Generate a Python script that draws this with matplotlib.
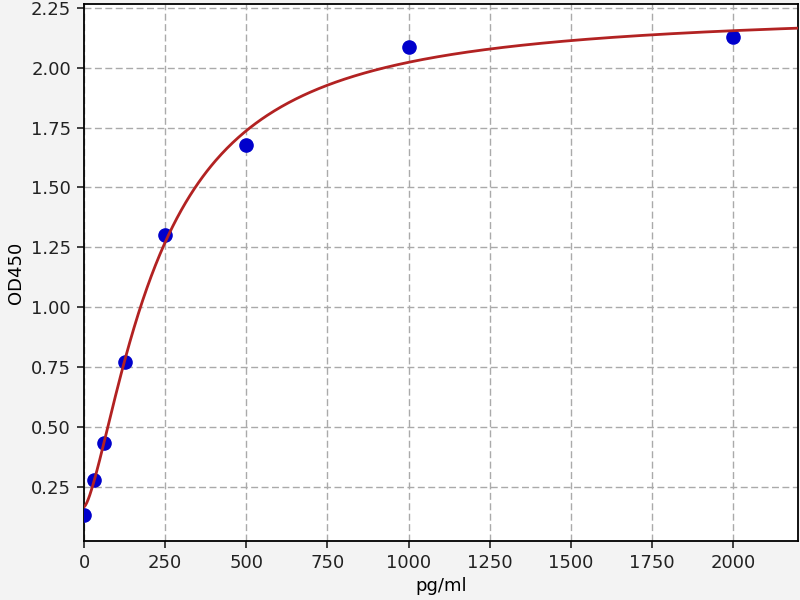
import numpy as np
import matplotlib
matplotlib.use("Agg")
import matplotlib.pyplot as plt

conc = [0, 31.25, 62.5, 125, 250, 500, 1000, 2000]
od = [0.133, 0.279, 0.433, 0.769, 1.301, 1.679, 2.085, 2.127]

x = np.array(conc, dtype=float)
y = np.array(od, dtype=float)


def f4(p, xx):
    a, b, c, d = p
    return d + (a - d) / (1.0 + (np.maximum(xx, 0) / c) ** b)


def fit4pl(xx, yy, p0):
    p = np.array(p0, dtype=float)
    lam = 1e-3
    for _ in range(500):
        r = yy - f4(p, xx)
        J = np.zeros((len(xx), 4))
        for i in range(4):
            dp = np.zeros(4)
            dp[i] = 1e-6 * max(abs(p[i]), 1e-3)
            J[:, i] = (f4(p + dp, xx) - f4(p, xx)) / dp[i]
        A = J.T @ J
        g = J.T @ r
        step = np.linalg.solve(A + lam * np.diag(np.diag(A)), g)
        pn = p + step
        if pn[2] > 0 and np.sum((yy - f4(pn, xx)) ** 2) < np.sum(r ** 2):
            p = pn
            lam *= 0.3
        else:
            lam *= 10
    return p


mask = x > 0
params = fit4pl(x[mask], y[mask], [0.15, 1.35, 220, 2.25])
xs = np.linspace(0, 2200, 500)
ys = f4(params, xs)

fs = 13
fig = plt.figure(figsize=(8, 6), dpi=100, facecolor="#f3f3f3")
ax = fig.add_axes([0.105, 0.099, 0.8925, 0.894])
ax.set_facecolor("white")
ax.plot(x, y, "o", color="#0000cc", markersize=9.5, zorder=3)
ax.plot(xs, ys, "-", color="#b22222", linewidth=2.0, zorder=4)
ax.set_xlim(0, 2200)
ax.set_ylim(0.025, 2.265)
ax.set_xticks([0, 250, 500, 750, 1000, 1250, 1500, 1750, 2000])
ax.set_yticks([0.25, 0.5, 0.75, 1.0, 1.25, 1.5, 1.75, 2.0, 2.25])
ax.yaxis.set_major_formatter(matplotlib.ticker.FormatStrFormatter("%.2f"))
ax.grid(True, linestyle=(0, (5, 2.5)), color="#aaaaaa", linewidth=1.0)
ax.set_axisbelow(True)
ax.tick_params(labelsize=fs, colors="#222222", length=4.8, width=1.2, pad=4.5)
ax.set_xlabel("pg/ml", fontsize=fs, labelpad=4)
ax.set_ylabel("OD450", fontsize=fs, labelpad=4)
for s in ax.spines.values():
    s.set_linewidth(1.3)
fig.savefig("out.png", dpi=100, facecolor=fig.get_facecolor())
